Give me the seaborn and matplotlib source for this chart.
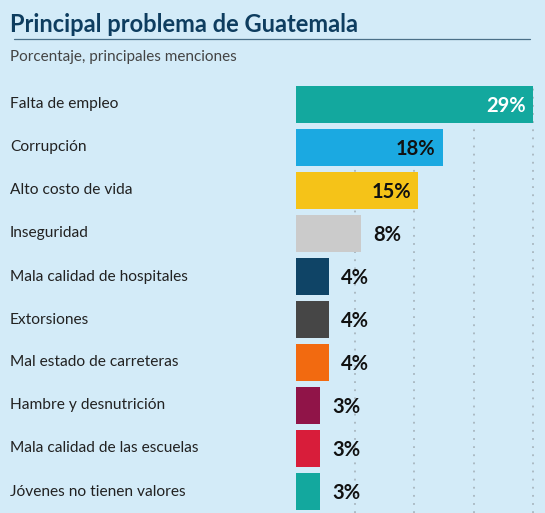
import seaborn as sns
import matplotlib.pyplot as plt
import matplotlib.transforms as mtransforms
import pandas as pd
import numpy as np

problemas = ['Falta de empleo', 'Corrupción', 'Alto costo de vida', 'Inseguridad',
             'Mala calidad de hospitales', 'Extorsiones', 'Mal estado de carreteras',
             'Hambre y desnutrición', 'Mala calidad de las escuelas', 'Jóvenes no tienen valores']
porcentajes = [29, 18, 15, 8, 4, 4, 4, 3, 3, 3]
colores = ['#13a89e', '#1ba9e1', '#f5c318', '#cbcbcb', '#0f4466',
           '#464646', '#f26a10', '#901448', '#d81d3a', '#13a89e']

df = pd.DataFrame({'problema': problemas, 'pct': porcentajes})

bg = '#d3ebf8'
sns.set_style('white')
plt.rcParams['font.family'] = ['Lato', 'DejaVu Sans']

fig = plt.figure(figsize=(5.45, 5.13), dpi=100, facecolor=bg)
ax = fig.add_axes([296 / 545, 0.0, 249 / 545, 1 - 83 / 513])
ax.set_facecolor(bg)

sns.barplot(data=df, x='pct', y='problema', hue='problema', palette=colores,
            legend=False, orient='h', width=0.86, saturation=1, linewidth=0,
            ax=ax, zorder=2)

ax.set_xlim(0, 30.5)
ax.set_ylim(len(problemas) - 0.5, -0.5)
ax.set_xticks(np.linspace(0, max(porcentajes), 5)[1:])
ax.grid(axis='x', color='#a8b6bf', linestyle=(0, (1, 3.5)), linewidth=1.3, zorder=0)
ax.set_axisbelow(True)
ax.set_xlabel('')
ax.set_ylabel('')
ax.set_xticklabels([])
ax.set_yticklabels([])
ax.tick_params(length=0)
for s in ax.spines.values():
    s.set_visible(False)

trans = mtransforms.blended_transform_factory(fig.transFigure, ax.transData)
for i, (lab, v) in enumerate(zip(problemas, porcentajes)):
    ax.text(10 / 545, i, lab, transform=trans, ha='left', va='center',
            fontsize=11.2, color='#222222')
    if v >= 15:
        ax.text(v - 0.9, i + 0.04, f'{v}%', ha='right', va='center', fontsize=14.5,
                fontweight='bold', color='white' if v > 20 else '#111111')
    else:
        ax.text(v + 1.5, i + 0.04, f'{v}%', ha='left', va='center', fontsize=14.5,
                fontweight='bold', color='#111111')

fig.text(10 / 545, 1 - 24 / 513, 'Principal problema de Guatemala', ha='left', va='center',
         fontsize=17, fontweight='bold', color='#0e3d5f')
fig.add_artist(plt.Line2D([14 / 545, 530 / 545], [1 - 39 / 513, 1 - 39 / 513],
                          transform=fig.transFigure, color='#4a6f88', linewidth=0.9))
fig.text(10 / 545, 1 - 57 / 513, 'Porcentaje, principales menciones', ha='left', va='center',
         fontsize=11, color='#444444')

fig.savefig('out.png', dpi=100, facecolor=bg)
